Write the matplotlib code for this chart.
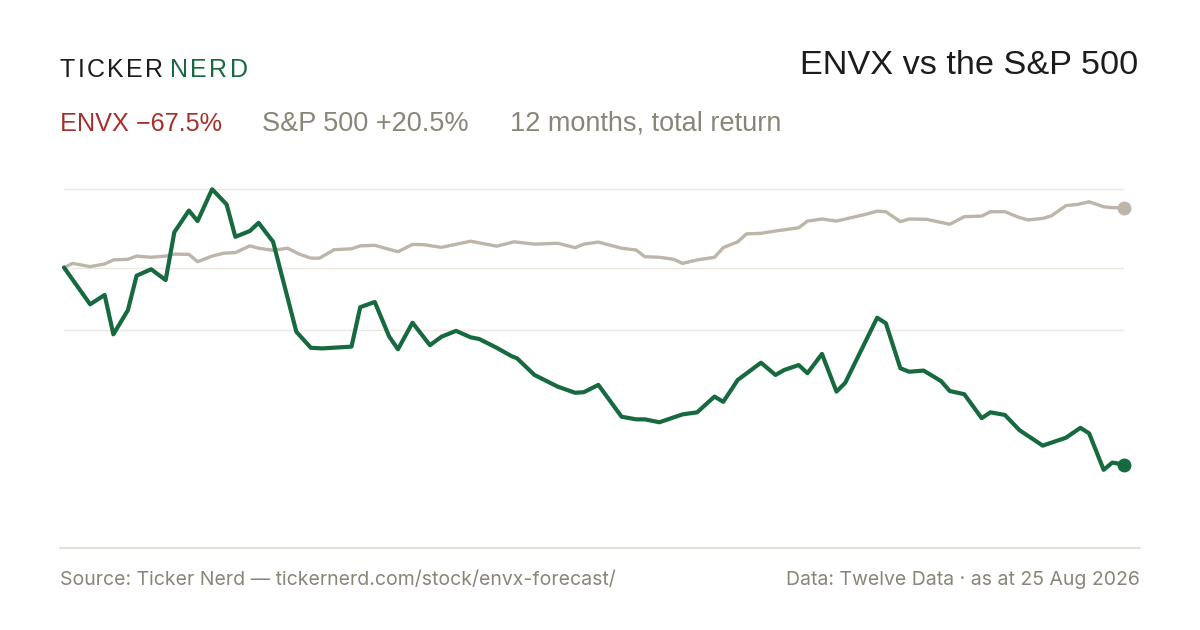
import matplotlib

matplotlib.use("Agg", force=True)
import matplotlib.pyplot as plt

W, H = 1200, 630

GREEN = "#176a3f"
SAND = "#bdb5a9"
GRID = "#ebe7e0"
RULE = "#dedad0"
MUTED = "#8a8579"
RED = "#a8302a"
INK = "#1c1c1c"

# day offsets (0..365) and % total return
envx_days = [0, 9, 14, 17, 22, 25, 30, 35, 38, 43, 46, 51, 56, 59, 64, 67, 72, 80, 85, 89,
             99, 102, 107, 112, 115, 120, 126, 130, 135, 140, 143, 149, 154, 156, 162, 170,
             176, 179, 184, 192, 197, 200, 205, 213, 218, 224, 227, 232, 240, 245, 248, 253,
             256, 261, 266, 269, 280, 283, 288, 291, 296, 302, 305, 310, 316, 319, 324, 329,
             337, 345, 350, 353, 358, 361, 365]
envx_ret = [0.0, -12.6, -9.4, -22.9, -14.6, -2.8, -0.6, -4.3, 12.1, 19.5, 15.9, 26.8, 21.6,
            10.5, 12.5, 15.3, 8.8, -22.0, -27.5, -27.7, -27.1, -13.6, -11.8, -23.7, -28.0,
            -18.9, -26.6, -23.7, -21.7, -23.9, -24.5, -27.5, -30.3, -31.1, -36.8, -40.8,
            -42.9, -42.7, -40.2, -51.1, -52.0, -52.0, -53.0, -50.3, -49.6, -44.2, -46.0,
            -38.5, -32.6, -36.8, -35.1, -33.4, -36.2, -29.6, -42.5, -39.5, -17.2, -19.1,
            -34.5, -35.7, -35.3, -38.9, -42.3, -43.4, -51.6, -49.6, -50.5, -55.7, -61.0,
            -58.3, -54.9, -56.8, -69.3, -66.8, -67.5]

spx_days = [0, 3, 9, 14, 17, 22, 25, 30, 35, 38, 43, 46, 51, 55, 59, 64, 67, 72, 77, 81, 85,
            88, 93, 99, 102, 107, 115, 120, 124, 130, 140, 149, 155, 162, 170, 176, 179, 184,
            192, 197, 200, 205, 210, 213, 218, 224, 227, 232, 235, 240, 245, 253, 256, 261,
            266, 276, 280, 283, 288, 291, 297, 305, 310, 316, 319, 324, 329, 332, 337, 340,
            345, 349, 353, 358, 361, 365]
spx_ret = [0.0, 1.4, 0.3, 1.2, 2.6, 2.8, 3.9, 3.5, 3.9, 4.6, 4.5, 2.0, 3.9, 4.9, 5.1, 7.4,
           6.6, 5.9, 6.6, 4.6, 3.2, 3.2, 6.1, 6.4, 7.4, 7.6, 5.4, 7.9, 7.8, 6.9, 9.0, 7.3,
           8.8, 8.0, 8.3, 6.8, 8.0, 8.7, 6.6, 6.0, 3.7, 3.5, 2.8, 1.4, 2.6, 3.5, 6.8, 8.8,
           11.5, 11.7, 12.5, 13.6, 15.9, 16.6, 15.9, 18.2, 19.3, 19.1, 15.7, 16.6, 16.5,
           14.8, 17.4, 17.6, 19.1, 19.1, 17.1, 16.3, 16.8, 17.7, 21.2, 21.6, 22.5, 20.8,
           20.5, 20.5]

TITLE = "ENVX vs the S&P 500"
ENVX_LABEL = "ENVX \u221267.5%"
SPX_LABEL = "S&P 500 +20.5%"
PERIOD_LABEL = "12 months, total return"
SOURCE = "Source: Ticker Nerd \u2014 tickernerd.com/stock/envx-forecast/"
DATA_NOTE = "Data: Twelve Data \u00b7 as at 25 Aug 2026"

plt.rcParams["font.family"] = ["Liberation Sans", "DejaVu Sans"]
FOOT_FONT = ["Inter", "DejaVu Sans"]


def fx(px):
    return px / W


def fy(py):
    return 1 - py / H


def tracked_text(fig, x_px, y_px, text, color, size, tracking_px):
    """Draw text one glyph at a time with extra letter spacing; returns end x in px."""
    renderer = fig.canvas.get_renderer()
    x = x_px
    for ch in text:
        t = fig.text(fx(x), fy(y_px), ch, color=color, fontsize=size, ha="left", va="center")
        x += t.get_window_extent(renderer).width + tracking_px
    return x


fig = plt.figure(figsize=(W / 100, H / 100), dpi=100, facecolor="white")

# plot area: x 64..1124 px, y 170..520 px
ax = fig.add_axes([fx(64), fy(520), fx(1124) - fx(64), fy(170) - fy(520)])
ax.set_xlim(0, 365)
px_per_pct = 2.92
ax.set_ylim(-(520 - 267.5) / px_per_pct, (267.5 - 170) / px_per_pct)
ax.axis("off")

top = max(envx_ret)
mid = (max(envx_ret) + min(envx_ret)) / 2
for level in (top, 0, mid):
    ax.axhline(level, color=GRID, lw=1.0, zorder=1)

ax.plot(spx_days, spx_ret, color=SAND, lw=2.4, solid_joinstyle="round",
        solid_capstyle="round", zorder=2)
ax.plot(spx_days[-1], spx_ret[-1], "o", color=SAND, ms=9, zorder=3, clip_on=False)
ax.plot(envx_days, envx_ret, color=GREEN, lw=3.0, solid_joinstyle="round",
        solid_capstyle="round", zorder=4, clip_on=False)
ax.plot(envx_days[-1], envx_ret[-1], "o", color=GREEN, ms=9, zorder=5, clip_on=False)

# header
tracked_text(fig, 60, 70, "TICKER", INK, 18, 2.4)
tracked_text(fig, 170, 70, "NERD", GREEN, 18, 2.4)
fig.text(fx(1138), fy(66), TITLE, color=INK, fontsize=24.7, ha="right", va="center")

fig.text(fx(60), fy(124), ENVX_LABEL, color=RED, fontsize=18.2, ha="left", va="center")
fig.text(fx(262), fy(124), SPX_LABEL, color=MUTED, fontsize=19.5, ha="left", va="center")
fig.text(fx(510), fy(124), PERIOD_LABEL, color=MUTED, fontsize=19.5, ha="left", va="center")

# footer
fig.add_artist(plt.Line2D([fx(60), fx(1140)], [fy(548), fy(548)], color=RULE, lw=1.2))
fig.text(fx(60), fy(580), SOURCE, color=MUTED, fontsize=14, family=FOOT_FONT,
         ha="left", va="center")
fig.text(fx(1140), fy(580), DATA_NOTE, color=MUTED, fontsize=14, family=FOOT_FONT,
         ha="right", va="center")

fig.savefig("out.png", dpi=100, facecolor="white")
